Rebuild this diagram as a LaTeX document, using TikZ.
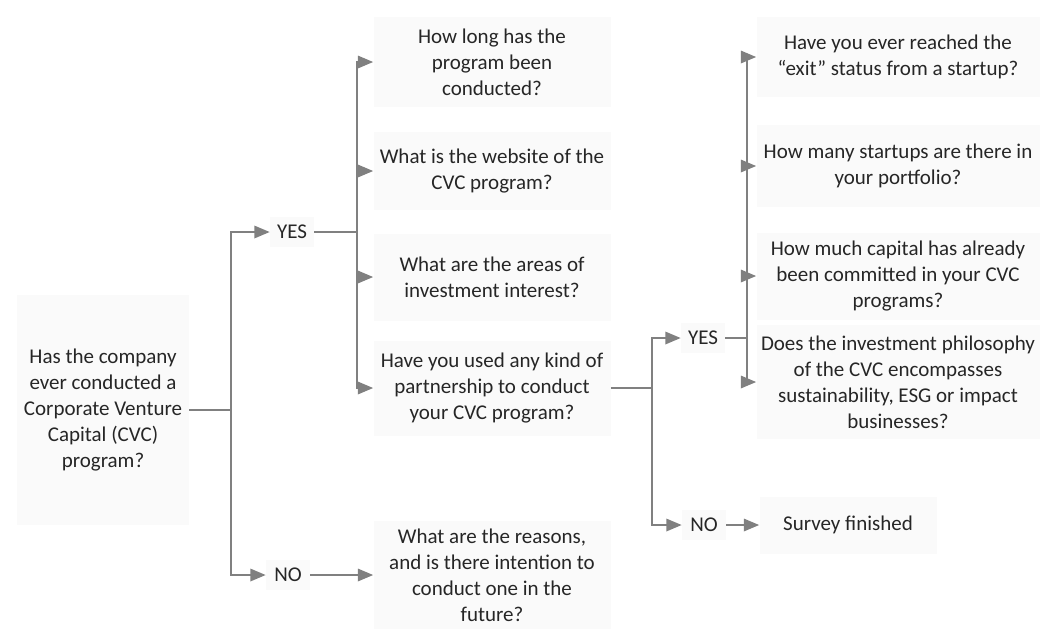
\documentclass[tikz,border=0pt]{standalone}
\usepackage{fontspec}
\setmainfont{Carlito}
\usetikzlibrary{arrows,backgrounds}

\begin{document}
\begin{tikzpicture}[x=0.5pt,y=-0.5pt,font=\fontsize{10.5}{13}\selectfont]
\tikzstyle{box} = [rectangle, fill=black!2, text=black!85, align=center,
inner sep=2pt]
\tikzstyle{left_q} = [box, minimum width=118.5pt]
\tikzstyle{right_q} = [box, minimum width=141.5pt]
\tikzstyle{answer} = [box, minimum width=22pt, minimum height=15pt]
\tikzstyle{line} = [draw, black!50, line width=0.75pt, -triangle 45];
\tikzstyle{joint} = [draw, black!50, line width=0.75pt];
\useasboundingbox (0,0) rectangle (1043,628);
% start
\node [box, minimum width=86pt, minimum height=115pt] (start) at (103,410)
{Has the company\\ever conducted a\\Corporate Venture\\Capital (CVC)\\program?};
% first answers
\node [answer] (yes_a) at (292,232) {YES};
\node [answer] (no_a) at (288,575) {NO};
% questions after yes
\node [left_q, minimum height=45pt] (how_long) at (492,62)
{How long has the\\program been\\conducted?};
\node [left_q, minimum height=39pt] (website) at (492,171)
{What is the website of the\\CVC program?};
\node [left_q, minimum height=43.5pt] (areas) at (492,277)
{What are the areas of\\investment interest?};
\node [left_q, minimum height=47.5pt] (partner) at (492,388)
{Have you used any kind of\\partnership to conduct\\your CVC program?};
% question after no
\node [left_q, minimum height=54pt] (reasons) at (492,575)
{What are the reasons,\\and is there intention to\\conduct one in the\\future?};
% second answers
\node [answer] (yes_b) at (703,338) {YES};
\node [answer] (no_b) at (704,525) {NO};
% right column
\node [right_q, minimum height=40pt] (exit) at (898,57)
{Have you ever reached the\\“exit” status from a startup?};
\node [right_q, minimum height=41pt] (portfolio) at (898,166)
{How many startups are there in\\your portfolio?};
\node [right_q, minimum height=43.5pt] (capital) at (898,276)
{How much capital has already\\been committed in your CVC\\programs?};
\node [right_q, minimum height=57pt] (esg) at (898,382)
{Does the investment philosophy\\of the CVC encompasses\\sustainability, ESG or impact\\businesses?};
\node [box, minimum width=88.5pt, minimum height=28.5pt] (finished) at (848,525)
{Survey finished};

\coordinate (split_a) at (231,410);
\coordinate (split_b) at (357,232);
\coordinate (split_c) at (652,388);
\coordinate (split_d) at (747,338);

\path [joint] (start) -- (split_a);
\path [line] (split_a) |- (yes_a);
\path [line] (split_a) |- (no_a);

\path [joint] (yes_a) -- (split_b);
\path [line] (split_b) |- (how_long);
\path [line] (split_b) |- (website);
\path [line] (split_b) |- (areas);
\path [line] (split_b) |- (partner);

\path [line] (no_a) -- (reasons);

\path [joint] (partner) -- (split_c);
\path [line] (split_c) |- (yes_b);
\path [line] (split_c) |- (no_b);

\path [joint] (yes_b) -- (split_d);
\path [line] (split_d) |- (exit);
\path [line] (split_d) |- (portfolio);
\path [line] (split_d) |- (capital);
\path [line] (split_d) |- (esg);

\path [line] (no_b) -- (finished);
\end{tikzpicture}
\end{document}
